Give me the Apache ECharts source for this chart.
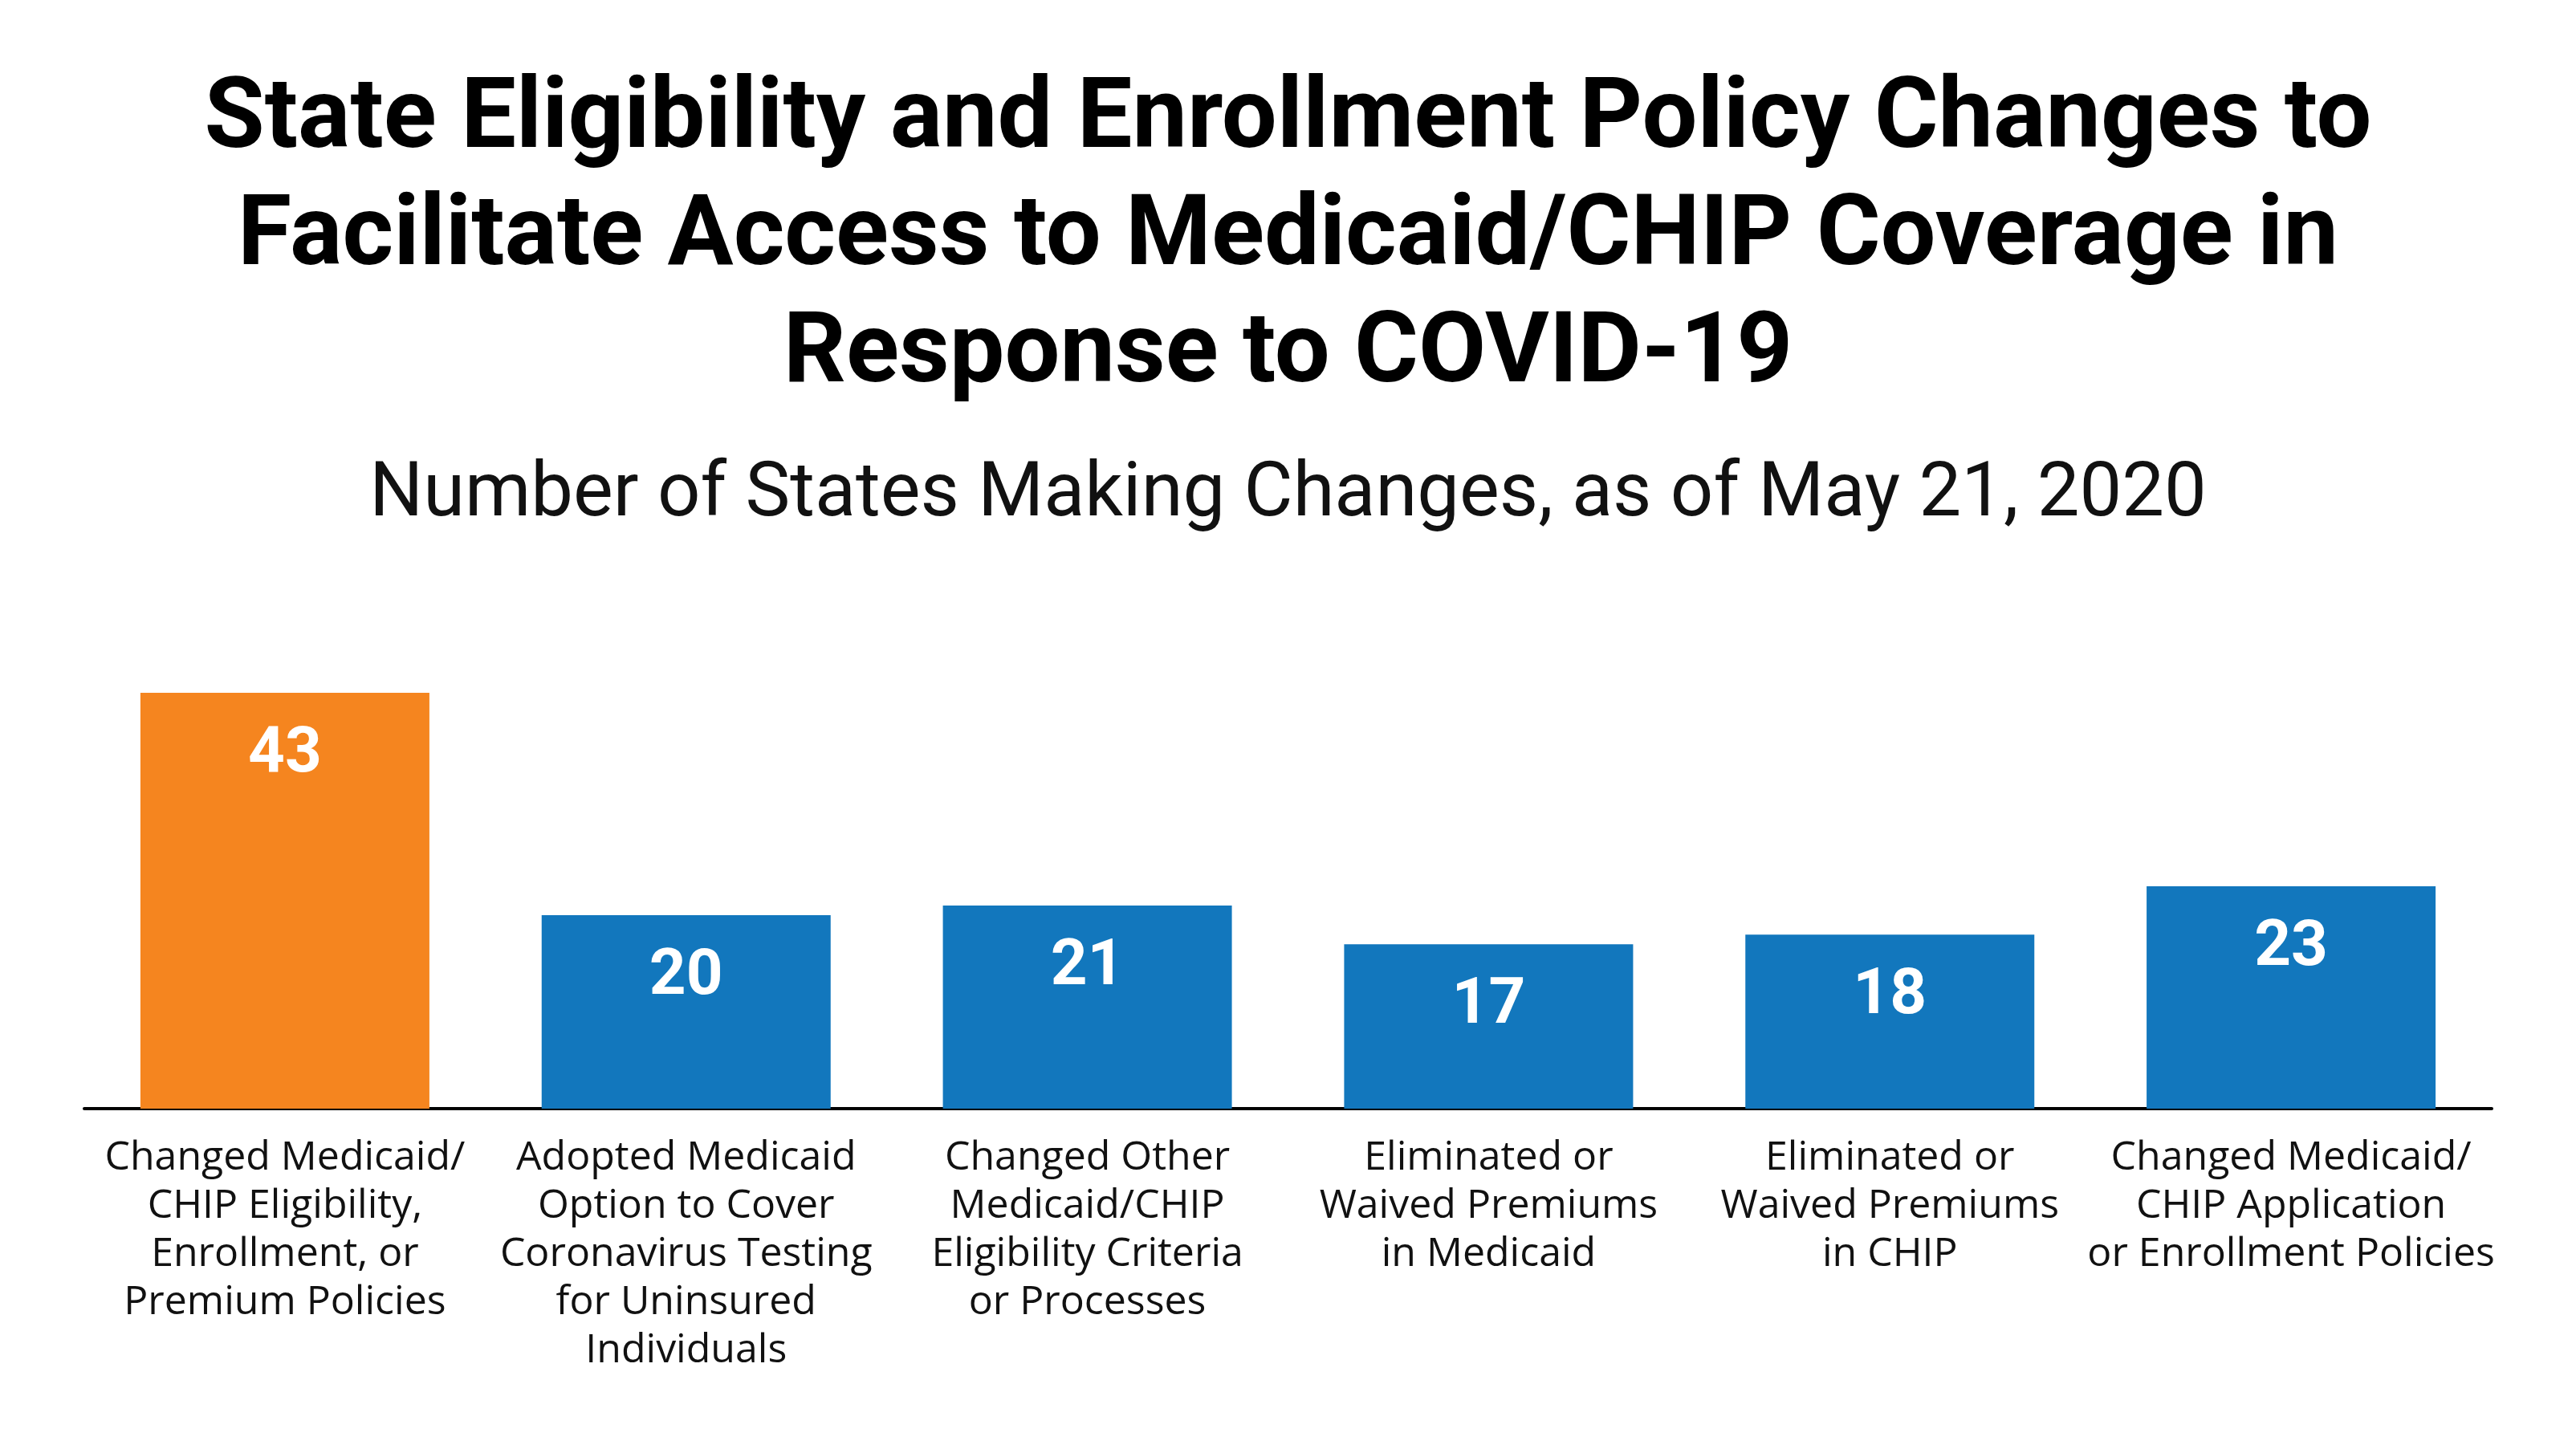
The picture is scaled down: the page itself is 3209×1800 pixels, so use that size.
<!DOCTYPE html>
<html>
<head>
<meta charset="utf-8">
<script src="https://cdn.jsdelivr.net/npm/echarts@6/dist/echarts.min.js"></script>
<style>
html,body{margin:0;padding:0;background:#fff;}
#chart{width:3209px;height:1800px;}
</style>
</head>
<body>
<div id="chart"></div>
<script>
const titleLines = [
  "State Eligibility and Enrollment Policy Changes to",
  "Facilitate Access to Medicaid/CHIP Coverage in",
  "Response to COVID-19"
];
const subtitleText = "Number of States Making Changes, as of May 21, 2020";
const categories = [
  "Changed Medicaid/\nCHIP Eligibility,\nEnrollment, or\nPremium Policies",
  "Adopted Medicaid\nOption to Cover\nCoronavirus Testing\nfor Uninsured\nIndividuals",
  "Changed Other\nMedicaid/CHIP\nEligibility Criteria\nor Processes",
  "Eliminated or\nWaived Premiums\nin Medicaid",
  "Eliminated or\nWaived Premiums\nin CHIP",
  "Changed Medicaid/\nCHIP Application\nor Enrollment Policies"
];
const values = [43, 20, 21, 17, 18, 23];
const barColors = ["#F5851F", "#1277BD", "#1277BD", "#1277BD", "#1277BD", "#1277BD"];

// fit font size of a text to a target width
function fitSize(text, weight, family, target) {
  const c = document.createElement('canvas').getContext('2d');
  c.font = weight + ' 100px ' + family;
  const w = c.measureText(text).width;
  return Math.round(100 * target / w * 10) / 10;
}
const titleFamily = 'Roboto';
const titleSize = fitSize(titleLines[0], 700, titleFamily, 2700);
const subSize = fitSize(subtitleText, 400, titleFamily, 2288);

const chart = echarts.init(document.getElementById('chart'));
chart.setOption({
  backgroundColor: '#ffffff',
  animation: false,
  title: [
    {
      text: titleLines.join('\n'),
      left: 'center',
      top: 74,
      textStyle: {
        fontFamily: titleFamily,
        fontWeight: 700,
        fontSize: titleSize,
        lineHeight: 146,
        color: '#000000'
      }
    },
    {
      text: subtitleText,
      left: 'center',
      top: 564,
      textStyle: {
        fontFamily: titleFamily,
        fontWeight: 400,
        fontSize: subSize,
        lineHeight: 100,
        color: '#111111'
      }
    }
  ],
  grid: { left: 105, right: 105, top: 839, bottom: 419 },
  xAxis: {
    type: 'category',
    data: categories,
    axisLine: { show: true, lineStyle: { color: '#000000', width: 4 } },
    axisTick: { show: false },
    axisLabel: {
      interval: 0,
      margin: 32,
      fontFamily: '"Open Sans"',
      fontSize: 50,
      lineHeight: 60,
      color: '#111111',
      align: 'center'
    }
  },
  yAxis: {
    type: 'value',
    min: 0,
    max: 45,
    show: false,
    splitLine: { show: false }
  },
  series: [{
    type: 'bar',
    data: values.map((v, i) => ({ value: v, itemStyle: { color: barColors[i] } })),
    barWidth: 360,
    label: {
      show: true,
      position: 'insideTop',
      distance: 38,
      fontFamily: 'Roboto',
      fontWeight: 700,
      fontSize: 80,
      lineHeight: 80,
      color: '#ffffff'
    }
  }]
});
</script>
</body>
</html>
